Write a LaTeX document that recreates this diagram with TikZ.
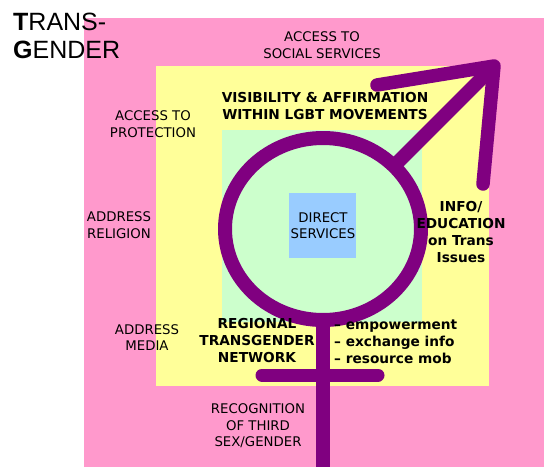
\documentclass[tikz,border=0pt]{standalone}
\usepackage{fontspec}
\setmainfont{DejaVu Sans}
\newfontfamily\titlefont{Liberation Sans}
\usetikzlibrary{positioning}

\definecolor{outerpink}{RGB}{255,153,204}
\definecolor{midyellow}{RGB}{255,255,153}
\definecolor{innergreen}{RGB}{204,255,204}
\definecolor{coreblue}{RGB}{153,204,255}
\definecolor{sympurple}{RGB}{128,0,128}

\begin{document}
\begin{tikzpicture}[x=1pt, y=-1pt,
		plain/.style={align=center, inner sep=0pt, font=\fontsize{13.3}{16.6}\selectfont},
		strong/.style={align=center, inner sep=0pt, font=\fontsize{13.7}{17}\selectfont\bfseries},
		sym/.style={draw=sympurple, line width=14pt, line cap=round, line join=round}]
		\useasboundingbox (0,0) rectangle (544,467);
		% nested fields
		\fill[outerpink] (84,18) rectangle (544,467);
		\fill[midyellow] (156,66) rectangle (489,386);
		\fill[innergreen] (222,130) rectangle (422,322);
		\fill[coreblue] (289,193) rectangle (356,258);
		% transgender symbol
		\coordinate (c) at (323,229);
		\coordinate (ringfoot) at (323,318);
		\coordinate (stemend) at (323,467);
		\coordinate (barleft) at (262,375);
		\coordinate (barright) at (378,375);
		\coordinate (shaftfoot) at (394,166);
		\coordinate (tip) at (494,66);
		\coordinate (armleft) at (377,85);
		\coordinate (armright) at (483,184);
		\draw[sym, line cap=butt] (ringfoot) -- (stemend);
		\draw[sym, line width=13pt] (barleft) -- (barright);
		\draw[sym, line cap=butt] (shaftfoot) -- (tip);
		\draw[sym, line width=13.5pt] (armleft) -- (tip) -- (armright);
		\draw[sym] (c) ellipse [x radius=98, y radius=91];
		% labels
		\node[anchor=west, inner sep=0pt, align=left, font=\titlefont\fontsize{25}{28}\selectfont] (title) at (13,35.5) {\textbf{T}RANS-\\\textbf{G}ENDER};
		\node[plain] (social) at (322,45) {ACCESS TO\\SOCIAL SERVICES};
		\node[plain] (protection) at (153,124) {ACCESS TO\\PROTECTION};
		\node[plain] (religion) at (119,225) {ADDRESS\\RELIGION};
		\node[plain] (media) at (147,337.5) {ADDRESS\\MEDIA};
		\node[plain] (recog) at (258,426) {RECOGNITION\\OF THIRD\\SEX/GENDER};
		\node[plain] (direct) at (323,225.5) {DIRECT\\SERVICES};
		\node[strong] (visib) at (325,106.5) {VISIBILITY \& AFFIRMATION\\WITHIN LGBT MOVEMENTS};
		\node[strong] (info) at (461,232) {INFO/\\EDUCATION\\on Trans\\Issues};
		\node[strong] (regional) at (257,341) {REGIONAL\\TRANSGENDER\\NETWORK};
		\node[strong, anchor=west, align=left] (mob) at (334,342) {-- empowerment\\-- exchange info\\-- resource mob};
	\end{tikzpicture}
\end{document}
